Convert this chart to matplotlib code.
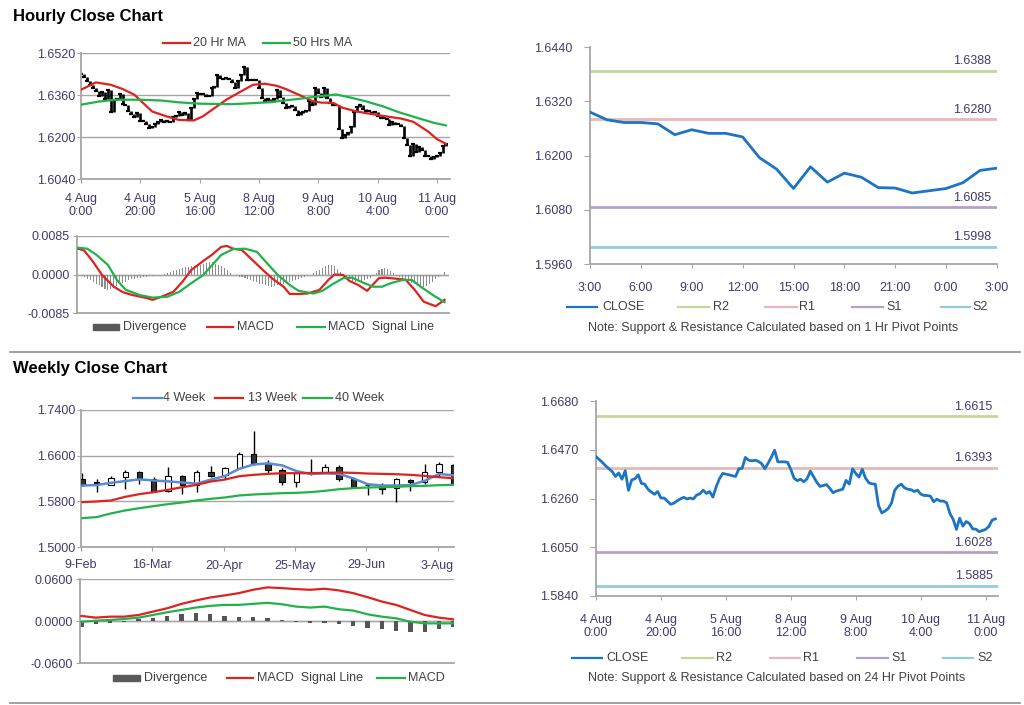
import matplotlib
matplotlib.use('Agg')
import matplotlib.pyplot as plt
from matplotlib.lines import Line2D
from matplotlib.patches import Rectangle

plt.rcParams['font.family'] = ['Liberation Sans', 'DejaVu Sans']
plt.rcParams['font.size'] = 9

# ---------------- hourly data: 4 Aug 0:00 .. 11 Aug 3:00, one close per hour
hourly_close = [
    1.6440, 1.6428, 1.6415, 1.6400, 1.6388, 1.6376, 1.6355, 1.6370, 1.6343, 1.6380,
    1.6295, 1.6340, 1.6345, 1.6362, 1.6325, 1.6322, 1.6300, 1.6288, 1.6278, 1.6290,
    1.6262, 1.6262, 1.6248, 1.6235, 1.6240, 1.6250, 1.6258, 1.6265, 1.6258, 1.6262,
    1.6258, 1.6275, 1.6280, 1.6296, 1.6282, 1.6290, 1.6266, 1.6310, 1.6345, 1.6368,
    1.6365, 1.6362, 1.6358, 1.6355, 1.6388, 1.6390, 1.6437, 1.6425, 1.6422, 1.6425,
    1.6420, 1.6410, 1.6388, 1.6412, 1.6438, 1.6468, 1.6418, 1.6418, 1.6418, 1.6416,
    1.6385, 1.6347, 1.6337, 1.6343, 1.6332, 1.6345, 1.6378, 1.6354, 1.6330, 1.6312,
    1.6316, 1.6320, 1.6304, 1.6285, 1.6292, 1.6296, 1.6300, 1.6338, 1.6322, 1.6388,
    1.6368, 1.6352, 1.6386, 1.6348, 1.6328, 1.6323, 1.6322, 1.6230, 1.6198, 1.6206,
    1.6217, 1.6240, 1.6296, 1.6313, 1.6322, 1.6306, 1.6300, 1.6298, 1.6290,
    1.6296, 1.6279, 1.6273, 1.6273, 1.6270, 1.6246, 1.6257, 1.6249, 1.6249, 1.6241,
    1.6195, 1.6170, 1.6127, 1.6175, 1.6141, 1.6161, 1.6152, 1.6129, 1.6128, 1.6117,
    1.6122, 1.6127, 1.6140, 1.6167, 1.6172]
hourly_ticks = [0, 20, 40, 60, 80, 100, 120]
hourly_labels = ['4 Aug\n0:00', '4 Aug\n20:00', '5 Aug\n16:00', '8 Aug\n12:00',
                 '9 Aug\n8:00', '10 Aug\n4:00', '11 Aug\n0:00']

ma20_x = [0, 5, 10, 14, 18, 21, 24, 29, 33, 38, 41, 45, 49, 54, 58, 62, 66, 69, 74, 78,
          81, 85, 88, 92, 96, 102, 108, 112, 117, 120, 123]
ma20 = [1.6380, 1.6408, 1.6399, 1.6383, 1.6361, 1.6329, 1.6297, 1.6278, 1.6265, 1.6263,
        1.6278, 1.6310, 1.6342, 1.6374, 1.6399, 1.6403, 1.6395, 1.6383, 1.6358, 1.6337,
        1.6331, 1.6330, 1.6312, 1.6300, 1.6291, 1.6280, 1.6270, 1.6258, 1.6221, 1.6192, 1.6174]
ma50_x = [0, 6, 12, 20, 27, 33, 40, 51, 63, 74, 81, 86, 91, 96, 102, 107, 113, 119, 123]
ma50 = [1.6323, 1.6335, 1.6342, 1.6342, 1.6339, 1.6332, 1.6327, 1.6325, 1.6332, 1.6346,
        1.6356, 1.6362, 1.6350, 1.6336, 1.6316, 1.6295, 1.6274, 1.6254, 1.6244]

macd_x = [0, 2, 5, 8, 12, 15, 18, 23, 25, 28, 32, 35, 38, 42, 45, 48, 50, 52, 55, 58,
          62, 65, 69, 71, 74, 77, 81, 84, 86, 89, 91, 94, 97, 101, 103, 108, 110, 113, 116, 120, 123]
macd = [0.0057, 0.0053, 0.0028, -0.0001, -0.0027, -0.0039, -0.0045, -0.0052, -0.0056, -0.0049,
        -0.0038, -0.0016, 0.0010, 0.0030, 0.0044, 0.0061, 0.0063, 0.0057, 0.0054, 0.0035,
        0.0010, -0.0008, -0.0027, -0.0043, -0.0043, -0.0042, -0.0034, -0.0012, 0.0000, -0.0001,
        -0.0014, -0.0023, -0.0036, -0.0008, -0.0007, -0.0010, -0.0012, -0.0034, -0.0060, -0.0070,
        -0.0056]
signal_x = [0, 3, 6, 10, 13, 16, 21, 25, 30, 34, 38, 42, 45, 48, 52, 56, 60, 63, 67, 71,
            74, 79, 82, 85, 89, 92, 95, 99, 102, 105, 109, 112, 115, 119, 123]
signal = [0.0059, 0.0057, 0.0044, 0.0021, -0.0012, -0.0034, -0.0046, -0.0051, -0.0049, -0.0038,
          -0.0019, -0.0001, 0.0021, 0.0043, 0.0056, 0.0057, 0.0050, 0.0028, -0.0001, -0.0023,
          -0.0036, -0.0042, -0.0036, -0.0023, -0.0008, -0.0007, -0.0016, -0.0027, -0.0027, -0.0019,
          -0.0012, -0.0012, -0.0027, -0.0045, -0.0061]
hourly_div = [
    0.0000, -0.0003, -0.0006, -0.0009, -0.0012, -0.0016, -0.0020, -0.0024, -0.0028, -0.0031,
    -0.0034, -0.0033, -0.0030, -0.0026, -0.0022, -0.0019, -0.0016, -0.0013, -0.0011, -0.0009,
    -0.0008, -0.0007, -0.0006, -0.0005, -0.0004, -0.0003, -0.0002, -0.0001, 0.0000,
    0.0002, 0.0004, 0.0006, 0.0008, 0.0010, 0.0012, 0.0014, 0.0016, 0.0017, 0.0018,
    0.0019, 0.0020, 0.0022, 0.0024, 0.0026, 0.0028, 0.0027, 0.0024, 0.0021, 0.0018,
    0.0014, 0.0009, 0.0004,
    -0.0002, -0.0004, -0.0005, -0.0006, -0.0008, -0.0010, -0.0012, -0.0014, -0.0017, -0.0020,
    -0.0022, -0.0024, -0.0026, -0.0027, -0.0026, -0.0024, -0.0022, -0.0020, -0.0018, -0.0016,
    -0.0014, -0.0012, -0.0010, -0.0008, -0.0006, -0.0004, -0.0002,
    0.0003, 0.0007, 0.0011, 0.0015, 0.0018, 0.0020, 0.0021, 0.0018, 0.0012, 0.0005,
    -0.0004, -0.0008, -0.0011, -0.0014, -0.0016, -0.0017, -0.0016, -0.0013, -0.0010, -0.0007, -0.0003,
    0.0004, 0.0009, 0.0013, 0.0014, 0.0012, 0.0008, 0.0003,
    -0.0003, -0.0006, -0.0009, -0.0012, -0.0015, -0.0018, -0.0021, -0.0024, -0.0026, -0.0027,
    -0.0025, -0.0021, -0.0016, -0.0010, -0.0005,
    -0.0001, 0.0006]

# last 24 hours (10 Aug 3:00 .. 11 Aug 3:00) starts at this hour of the series
day_start = 99
day_labels = ['3:00', '6:00', '9:00', '12:00', '15:00', '18:00', '21:00', '0:00', '3:00']

pivot_names = ['R2', 'R1', 'S1', 'S2']
pivot_1h = [1.6388, 1.6280, 1.6085, 1.5998]
pivot_24h = [1.6615, 1.6393, 1.6028, 1.5885]

# ---------------- weekly data (9-Feb .. 10-Aug)
wk_open = [1.6194, 1.6135, 1.6089, 1.6229, 1.6322, 1.6194, 1.5984, 1.6246, 1.6089, 1.6322,
           1.6264, 1.6380, 1.6625, 1.6468, 1.6351, 1.6135, 1.6322, 1.6305, 1.6398, 1.6194,
           1.6084, 1.6089, 1.6031, 1.6176, 1.6147, 1.6322, 1.6439]
wk_high = [1.6293, 1.6194, 1.6252, 1.6351, 1.6340, 1.6225, 1.6409, 1.6264, 1.6351, 1.6421,
           1.6409, 1.6672, 1.7033, 1.6526, 1.6380, 1.6322, 1.6544, 1.6450, 1.6439, 1.6235,
           1.6089, 1.6118, 1.6205, 1.6194, 1.6450, 1.6497, 1.6450]
wk_low = [1.6060, 1.5962, 1.6078, 1.6020, 1.6101, 1.5965, 1.5962, 1.5926, 1.5962, 1.6235,
          1.6194, 1.6369, 1.6439, 1.6276, 1.6089, 1.6043, 1.6264, 1.6293, 1.6159, 1.6031,
          1.5914, 1.5926, 1.5786, 1.5984, 1.6101, 1.6235, 1.6100]
wk_close = [1.6089, 1.6125, 1.6217, 1.6322, 1.6217, 1.5972, 1.6246, 1.6078, 1.6322, 1.6252,
            1.6380, 1.6625, 1.6468, 1.6351, 1.6147, 1.6293, 1.6293, 1.6398, 1.6194, 1.6048,
            1.6078, 1.6019, 1.6194, 1.6147, 1.6322, 1.6450, 1.6107]
ma4w = [1.6077, 1.6085, 1.6125, 1.6155, 1.6185, 1.6165, 1.6150, 1.6130, 1.6110, 1.6180,
        1.6245, 1.6370, 1.6445, 1.6465, 1.6430, 1.6330, 1.6280, 1.6290, 1.6280, 1.6200,
        1.6100, 1.6077, 1.6077, 1.6085, 1.6160, 1.6280, 1.6255]
ma13w = [1.5786, 1.5798, 1.5815, 1.5879, 1.5926, 1.5961, 1.6002, 1.6048, 1.6089, 1.6147,
         1.6182, 1.6240, 1.6264, 1.6281, 1.6293, 1.6293, 1.6293, 1.6299, 1.6305, 1.6299,
         1.6287, 1.6281, 1.6275, 1.6264, 1.6246, 1.6223, 1.6205]
ma40w = [1.5506, 1.5524, 1.5588, 1.5640, 1.5681, 1.5716, 1.5751, 1.5780, 1.5815, 1.5844,
         1.5868, 1.5903, 1.5920, 1.5932, 1.5943, 1.5949, 1.5961, 1.5984, 1.6013, 1.6031,
         1.6042, 1.6048, 1.6054, 1.6066, 1.6072, 1.6083, 1.6089]
wk_div = [-0.0082, -0.0048, -0.0024, -0.0010, 0.0030, 0.0048, 0.0077, 0.0096, 0.0110, 0.0096,
          0.0077, 0.0062, 0.0062, 0.0048, 0.0014, -0.0019, -0.0024, -0.0024, -0.0043, -0.0072,
          -0.0106, -0.0120, -0.0139, -0.0154, -0.0154, -0.0120, -0.0091]
wk_signal = [0.0072, 0.0048, 0.0062, 0.0062, 0.0086, 0.0134, 0.0182, 0.0245, 0.0293, 0.0336,
             0.0365, 0.0398, 0.0446, 0.0480, 0.0470, 0.0456, 0.0446, 0.0461, 0.0437, 0.0398,
             0.0341, 0.0278, 0.0230, 0.0158, 0.0086, 0.0048, 0.0024]
wk_macd = [-0.0010, 0.0005, 0.0014, 0.0029, 0.0048, 0.0086, 0.0125, 0.0158, 0.0192, 0.0216,
           0.0230, 0.0230, 0.0245, 0.0259, 0.0240, 0.0206, 0.0192, 0.0206, 0.0168, 0.0149,
           0.0096, 0.0062, 0.0038, -0.0010, -0.0034, -0.0034, -0.0034]
wk_ticks = [0, 5, 10, 15, 20, 25]
wk_labels = ['9-Feb', '16-Mar', '20-Apr', '25-May', '29-Jun', '3-Aug']

# ---------------- styling
RED = '#dc2320'
GREEN = '#22b24c'
BLUE4 = '#5b8bd0'
CLOSE = '#1c74c4'
pivot_colors = ['#c4d79b', '#e6b9b8', '#b3a2c7', '#93cddd']
TXT = '#46396a'
GRID = '#a6a6a6'

W, H = 1024, 705
fig = plt.figure(figsize=(W / 100, H / 100), dpi=100)


def box(l, t, r, b):
    return [l / W, 1 - b / H, (r - l) / W, (b - t) / H]


def fy(y):
    return 1 - y / H


def base_style(ax, xpad, ypad, ylen=3):
    for s in ['top', 'right']:
        ax.spines[s].set_visible(False)
    for s in ['left', 'bottom']:
        ax.spines[s].set_color(GRID)
        ax.spines[s].set_linewidth(1.3)
    ax.tick_params(axis='x', direction='out', length=3, color=GRID, labelcolor=TXT,
                   labelsize=9, pad=xpad)
    ax.tick_params(axis='y', direction='out', length=ylen, color=GRID, labelcolor=TXT,
                   labelsize=9, pad=ypad)
    ax.set_axisbelow(True)


def fmt4(ax, ticks):
    ax.set_yticks(ticks)
    ax.set_yticklabels(['%.4f' % t for t in ticks])


def fig_line(x0, x1, y, color, lw=1.6):
    fig.add_artist(Line2D([x0 / W, x1 / W], [fy(y), fy(y)], color=color, lw=lw))


def fig_patch(x0, x1, y, color):
    fig.add_artist(Rectangle((x0 / W, fy(y + 3)), (x1 - x0) / W, 6 / H, color=color,
                             transform=fig.transFigure))


def fig_text(x, y, s, **kw):
    fig.text(x / W, fy(y), s, va='center', color='#404040', fontsize=9, **kw)


# titles and separators
fig.text(13 / W, fy(16), 'Hourly Close Chart', fontsize=12, fontweight='bold', va='center')
fig.text(13 / W, fy(369), 'Weekly Close Chart', fontsize=12, fontweight='bold', va='center')
fig_line(10, 1020, 352, '#999999', lw=1.3)
fig_line(10, 1020, 703, '#999999', lw=1.3)

# ---- hourly candles (body from previous close to close)
ax1 = fig.add_axes(box(81, 53, 450, 179))
base_style(ax1, 7, 1)
hx = list(range(len(hourly_close)))
lo = [min(a, b) for a, b in zip(hourly_close[:-1], hourly_close[1:])]
hi = [max(a, b) for a, b in zip(hourly_close[:-1], hourly_close[1:])]
ax1.vlines(hx[1:], lo, hi, color='black', lw=1.9, zorder=2)
ax1.plot(hx, hourly_close, ls='none', marker='_', ms=3.5, mew=1.6, color='black', zorder=2)
ax1.plot(ma20_x, ma20, color=RED, lw=1.6, zorder=3)
ax1.plot(ma50_x, ma50, color=GREEN, lw=1.6, zorder=3)
ax1.set_xlim(0, 124.4)
ax1.set_ylim(1.6040, 1.6520)
fmt4(ax1, [1.6040, 1.6200, 1.6360, 1.6520])
ax1.yaxis.grid(True, color=GRID, lw=1)
ax1.set_xticks(hourly_ticks)
ax1.set_xticklabels(hourly_labels, linespacing=1.1)

fig_line(163, 190, 43, RED)
fig_text(193, 43, '20 Hr MA')
fig_line(263, 290, 43, GREEN)
fig_text(293, 43, '50 Hrs MA')

# ---- hourly MACD
ax2 = fig.add_axes(box(77, 236, 449, 313))
base_style(ax2, 3, 2)
ax2.bar(hx, hourly_div, width=0.35, color='#8c8c8c', zorder=2)
ax2.plot(macd_x, macd, color=RED, lw=1.6, zorder=3)
ax2.plot(signal_x, signal, color=GREEN, lw=1.6, zorder=3)
ax2.axhline(0, color=GRID, lw=1, zorder=1)
ax2.set_xlim(-0.4, 124.5)
ax2.set_ylim(-0.0085, 0.0085)
fmt4(ax2, [-0.0085, 0.0, 0.0085])
ax2.yaxis.grid(True, color=GRID, lw=1)
ax2.set_xticks([])

fig_patch(93, 119, 327, '#595959')
fig_text(123, 327, 'Divergence')
fig_line(207, 233, 327, RED)
fig_text(237, 327, 'MACD')
fig_line(297, 325, 327, GREEN)
fig_text(328, 327, 'MACD  Signal Line')


def pivot_chart(ax, xs, ys, levels, xlim, ylim, yticks):
    base_style(ax, 10, 9, ylen=4)
    for v, c in zip(levels, pivot_colors):
        ax.axhline(v, color=c, lw=2, zorder=1)
        ax.annotate('%.4f' % v, xy=(1, v), xycoords=('axes fraction', 'data'),
                    xytext=(-4, 2.5), textcoords='offset points', ha='right', va='bottom',
                    color=TXT, fontsize=9)
    ax.plot(xs, ys, color=CLOSE, lw=2, zorder=3)
    ax.set_xlim(*xlim)
    ax.set_ylim(*ylim)
    fmt4(ax, yticks)


def pivot_legend(y, xs, note_y, note_x, note):
    names = ['CLOSE'] + pivot_names
    cols = [CLOSE] + pivot_colors
    for (x0, x1, tx), n, c in zip(xs, names, cols):
        fig_line(x0, x1, y, c, lw=1.6)
        fig_text(tx, y, n)
    fig.text(note_x / W, fy(note_y), note, ha='center', va='center', fontsize=9,
             color='#404040')


# ---- last 24 hours, 1 hr pivots
ax3 = fig.add_axes(box(590, 47, 997, 264))
day = hourly_close[day_start:]
pivot_chart(ax3, list(range(len(day))), day, pivot_1h, (0, 24), (1.5960, 1.6440),
            [1.5960, 1.6080, 1.6200, 1.6320, 1.6440])
ax3.set_xticks(list(range(0, 25, 3)))
ax3.set_xticklabels(day_labels)
pivot_legend(307, [(567, 597, 602), (678, 709, 713), (765, 797, 799), (852, 883, 886),
                   (941, 970, 972)], 328, 773,
             'Note: Support & Resistance Calculated based on 1 Hr Pivot Points')

# ---- weekly candles
wx = [i + 0.1 for i in range(len(wk_close))]
ax4 = fig.add_axes(box(81, 410, 454, 547))
base_style(ax4, 6, 1)
ax4.vlines(wx, wk_low, wk_high, color='black', lw=1, zorder=2)
body_lo = [min(o, c) for o, c in zip(wk_open, wk_close)]
body_h = [abs(c - o) for o, c in zip(wk_open, wk_close)]
faces = ['white' if c > o else '#333333' for o, c in zip(wk_open, wk_close)]
ax4.bar(wx, body_h, bottom=body_lo, width=0.38, color=faces, edgecolor='black', lw=0.8,
        zorder=3)
ax4.plot(wx, ma4w, color=BLUE4, lw=1.8, zorder=4)
ax4.plot(wx, ma13w, color=RED, lw=1.6, zorder=4)
ax4.plot(wx, ma40w, color=GREEN, lw=1.6, zorder=4)
ax4.set_xlim(0, 26.15)
ax4.set_ylim(1.5000, 1.7400)
fmt4(ax4, [1.5000, 1.5800, 1.6600, 1.7400])
ax4.yaxis.grid(True, color=GRID, lw=1)
ax4.set_xticks(wk_ticks)
ax4.set_xticklabels(wk_labels)

fig_line(133, 162, 398, BLUE4)
fig_text(163, 398, '4 Week')
fig_line(215, 243, 398, RED)
fig_text(248, 398, '13 Week')
fig_line(303, 332, 398, GREEN)
fig_text(335, 398, '40 Week')

# ---- weekly MACD
ax5 = fig.add_axes(box(80, 579, 454, 663))
base_style(ax5, 3, 2)
ax5.bar(wx, wk_div, width=0.3, color='#555555', zorder=2)
ax5.plot(wx, wk_signal, color=RED, lw=1.6, zorder=3)
ax5.plot(wx, wk_macd, color=GREEN, lw=1.6, zorder=3)
ax5.axhline(0, color=GRID, lw=1, zorder=1)
ax5.set_xlim(0, 26.15)
ax5.set_ylim(-0.06, 0.06)
fmt4(ax5, [-0.06, 0.0, 0.06])
ax5.yaxis.grid(True, color=GRID, lw=1)
ax5.set_xticks([])

fig_patch(113, 140, 678, '#595959')
fig_text(144, 678, 'Divergence')
fig_line(227, 253, 678, RED)
fig_text(257, 678, 'MACD  Signal Line')
fig_line(377, 405, 678, GREEN)
fig_text(408, 678, 'MACD')

# ---- hourly close with 24 hr pivots
ax6 = fig.add_axes(box(596, 401, 998, 596))
pivot_chart(ax6, hx, hourly_close, pivot_24h, (0, 123.8), (1.5840, 1.6680),
            [1.5840, 1.6050, 1.6260, 1.6470, 1.6680])
ax6.set_xticks(hourly_ticks)
ax6.set_xticklabels(hourly_labels, linespacing=1.1)
pivot_legend(658, [(572, 602, 606), (682, 713, 716), (770, 800, 803), (857, 888, 891),
                   (943, 973, 977)], 678, 777,
             'Note: Support & Resistance Calculated based on 24 Hr Pivot Points')

fig.savefig('out.png', dpi=100)
